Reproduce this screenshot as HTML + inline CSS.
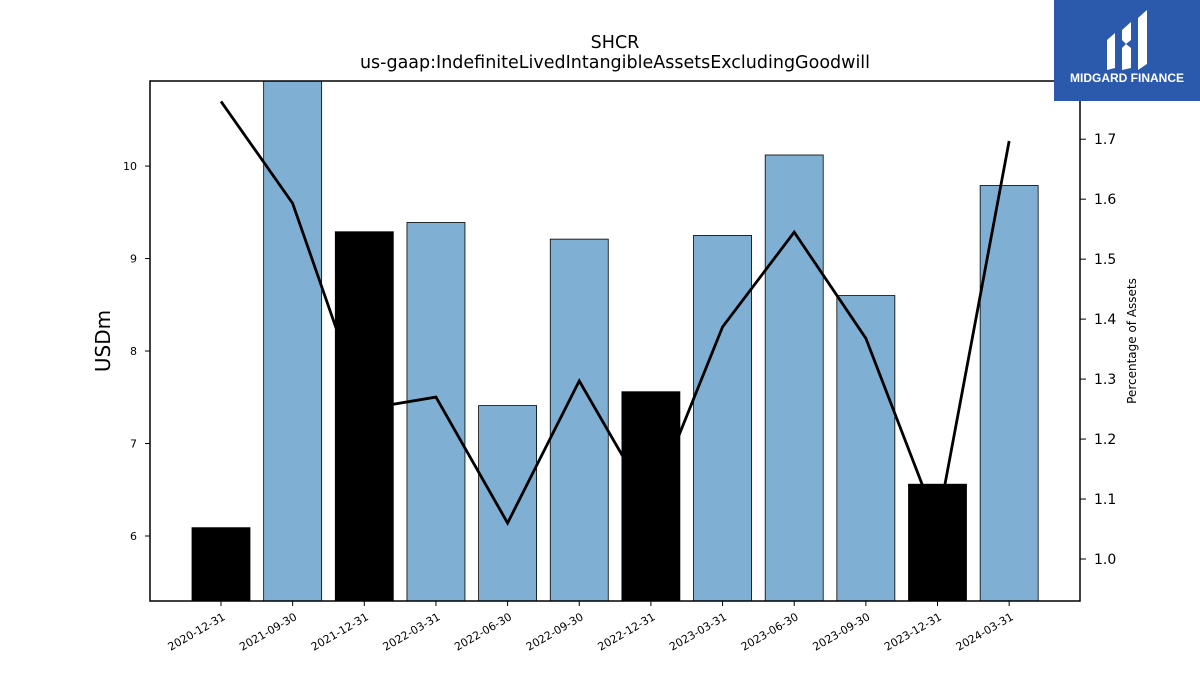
<!DOCTYPE html>
<html><head><meta charset="utf-8"><style>
body{margin:0;background:#fff;font-family:"Liberation Sans","DejaVu Sans",sans-serif;}
svg text{font-family:"DejaVu Sans","Liberation Sans",sans-serif;}
</style></head><body>
<svg id="chart" width="1200" height="675" xmlns="http://www.w3.org/2000/svg">
<text x="615" y="48" text-anchor="middle" font-size="17.5">SHCR</text>
<text x="615" y="68" text-anchor="middle" font-size="17.5">us-gaap:IndefiniteLivedIntangibleAssetsExcludingGoodwill</text>
<g id="bars"></g>
<g id="line"></g>
<rect x="150" y="81" width="930" height="520" fill="none" stroke="#000" stroke-width="1.5"/>
<g id="axes"></g>
<text x="0" y="0" transform="translate(110,341) rotate(-90)" text-anchor="middle" font-size="20">USDm</text>
<text x="0" y="0" transform="translate(1136,341) rotate(-90)" text-anchor="middle" font-size="12">Percentage of Assets</text>
<g>
<rect x="1054" y="0" width="146" height="101" fill="#2b5aad"/>
<path d="M1107 40 L1115 33 L1115 68 L1107 70 Z M1122 30 L1131 22 L1131 40 L1126 44 L1122 40 Z M1122 48 L1126 44 L1131 48 L1131 68 L1122 70 Z M1138 18 L1147 10 L1147 64 L1138 70 Z" fill="#fff"/>
<text x="1127" y="82" text-anchor="middle" font-size="12" font-weight="bold" fill="#fff" style="font-family:'Liberation Sans',sans-serif">MIDGARD FINANCE</text>
</g>
</svg>
<script>
const categories=["2020-12-31","2021-09-30","2021-12-31","2022-03-31","2022-06-30","2022-09-30","2022-12-31","2023-03-31","2023-06-30","2023-09-30","2023-12-31","2024-03-31"];
const barValues=[6.09,11.0,9.29,9.39,7.41,9.21,7.56,9.25,10.12,8.60,6.56,9.79];
const barDark=[true,false,true,false,false,false,true,false,false,false,true,false];
const pctValues=[1.763,1.593,1.25,1.27,1.06,1.297,1.09,1.387,1.545,1.368,1.058,1.697];
const leftTicks=[6,7,8,9,10];
const rightTicks=[1.0,1.1,1.2,1.3,1.4,1.5,1.6,1.7];
const NS="http://www.w3.org/2000/svg";
const pTop=81,pBot=601;
const yL=v=>pBot-(v-5.297)/(10.92-5.297)*(pBot-pTop);
const yR=v=>pBot-(v-0.93)/(1.797-0.93)*(pBot-pTop);
const xC=i=>221+i*71.65;
const bw=58;
function mk(t,a,p){const e=document.createElementNS(NS,t);for(const k in a)e.setAttribute(k,a[k]);p.appendChild(e);return e;}
const barsG=document.getElementById('bars');
barValues.forEach((v,i)=>{
 const y=Math.max(yL(v),pTop);
 const r=mk('rect',{x:xC(i)-bw/2,y:y,width:bw,height:pBot-y,fill:barDark[i]?'#000':'#7fb0d4',stroke:'#000','stroke-width':0.8},barsG);
 
 
});
const lineG=document.getElementById('line');
const pl=mk('polyline',{points:pctValues.map((v,i)=>xC(i)+','+yR(v)).join(' '),fill:'none',stroke:'#000','stroke-width':2.8},lineG);


const ax=document.getElementById('axes');
leftTicks.forEach(v=>{const y=yL(v);
 mk('line',{x1:145,x2:150,y1:y,y2:y,stroke:'#000'},ax);
 const t=mk('text',{x:137,y:y+4,'text-anchor':'end','font-size':11},ax);t.textContent=v;
 
 });
rightTicks.forEach(v=>{const y=yR(v);
 mk('line',{x1:1080,x2:1086,y1:y,y2:y,stroke:'#000'},ax);
 const t=mk('text',{x:1094,y:y+5,'font-size':14},ax);t.textContent=v.toFixed(1);
 
 });
categories.forEach((c,i)=>{const x=xC(i);
 mk('line',{x1:x,x2:x,y1:601,y2:606,stroke:'#000'},ax);
 const t=mk('text',{x:0,y:0,'text-anchor':'end','font-size':11,transform:`translate(${x+5},${619}) rotate(-30)`},ax);t.textContent=c;
 
 });
</script>
</body></html>
